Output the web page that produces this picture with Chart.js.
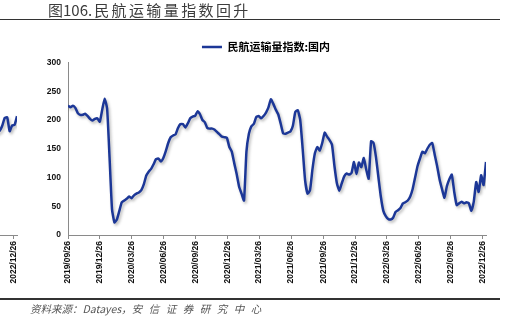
<!DOCTYPE html>
<html>
<head>
<meta charset="utf-8">
<script src="https://cdn.jsdelivr.net/npm/chart.js@4.4.0/dist/chart.umd.min.js"></script>
<style>
html, body { margin: 0; padding: 0; background: #fff; overflow: hidden; }
#wrap { position: relative; width: 509px; height: 326px; overflow: hidden; }
#title { position: absolute; left: 48px; top: 2px; font: 15px "Noto Sans CJK SC"; color: #3c3c3c; white-space: nowrap; line-height: 16px; }
#title .cn { letter-spacing: 2.4px; margin-left: 2px; }
#rule1 { position: absolute; left: 0; top: 19px; width: 500px; border-top: 1.5px solid #333; }
#rule2 { position: absolute; left: 0; top: 298px; width: 500px; border-top: 2px solid #333; }
#source { position: absolute; left: 30px; top: 301px; font: italic 10.5px "Noto Sans CJK SC"; color: #555; white-space: nowrap; }
#source .cn2 { letter-spacing: 6.5px; }
#main { position: absolute; left: 0; top: 0; }
#prev { position: absolute; left: -93px; top: 0; }
</style>
</head>
<body>
<div id="wrap">
  <canvas id="prev" width="130" height="326"></canvas>
  <canvas id="main" width="509" height="326"></canvas>
  <div id="title">图106.<span class="cn">民航运输量指数回升</span></div>
  <div id="rule1"></div>
  <div id="rule2"></div>
  <div id="source">资料来源：Datayes，<span class="cn2">安信证券研究中心</span></div>
</div>
<script>
// weekly series, first point 2019/09/26
const startDate = '2019/09/26';
const seriesName = '民航运输量指数:国内';
const flightIndex = [
  225, 222, 225, 221, 212, 209, 209, 211, 207, 202, 199, 202, 203, 197, 218, 237,
  220, 135, 45, 22, 27, 42, 57, 60, 63, 67, 64, 69, 72, 74, 78, 88,
  103, 110, 115, 123, 132, 133, 128, 134, 146, 160, 170, 173, 175, 186, 193, 193,
  187, 194, 203, 206, 207, 215, 210, 200, 196, 186, 185, 185, 183, 179, 175, 171,
  170, 169, 153, 145, 125, 106, 84, 72, 60, 145, 176, 189, 193, 205, 207, 203,
  207, 213, 222, 236, 228, 218, 210, 194, 177, 176, 178, 180, 190, 214, 217, 200,
  150, 95, 72, 78, 114, 142, 153, 147, 160, 178, 171, 165, 157, 120, 90, 77,
  90, 102, 107, 105, 108, 127, 106, 126, 118, 134, 114, 98, 163, 160, 135, 100,
  66, 42, 33, 28, 27, 30, 40, 43, 47, 55, 57, 60, 67, 80, 100, 120,
  133, 145, 142, 150, 157, 160, 140, 120, 97, 80, 65, 85, 97, 105, 75, 52,
  55, 58, 55, 57, 55, 42, 58, 92, 75, 104, 87, 127
];
const tickLabels = [
  '2019/09/26', '2019/12/26', '2020/03/26', '2020/06/26', '2020/09/26',
  '2020/12/26', '2021/03/26', '2021/06/26', '2021/09/26', '2021/12/26',
  '2022/03/26', '2022/06/26', '2022/09/26', '2022/12/26'
];
const yTicks = [0, 50, 100, 150, 200, 250, 300];

// tail of the neighbouring figure, cut by the page edge
const prevTail = [175, 178, 181, 190, 203, 204, 180, 190, 191, 206];
const prevTickLabels = ['2022/12/26'];

function dayOf(s) {
  const p = s.split('/').map(Number);
  const q = startDate.split('/').map(Number);
  return Math.round((Date.UTC(p[0], p[1] - 1, p[2]) - Date.UTC(q[0], q[1] - 1, q[2])) / 86400000);
}
const lastDay = (flightIndex.length - 1) * 7;

const lineColor = '#1c3797';
const tickFont = { family: 'Liberation Sans', size: 8.5, weight: 'bold' };

const shadowPlugin = {
  id: 'lineShadow',
  beforeDatasetsDraw(chart) {
    const c = chart.ctx;
    c.save();
    c.shadowColor = 'rgba(0,0,0,0.28)';
    c.shadowBlur = 3;
    c.shadowOffsetX = 1.5;
    c.shadowOffsetY = 2;
  },
  afterDatasetsDraw(chart) { chart.ctx.restore(); }
};

function xAxis(labels, min, max) {
  return {
    type: 'linear', min: min, max: max,
    afterBuildTicks: ax => { ax.ticks = labels.map(l => ({ value: dayOf(l) })); },
    afterFit: ax => { ax.height = 91; },
    ticks: {
      autoSkip: false, minRotation: 90, maxRotation: 90, padding: 2,
      color: '#111', font: tickFont,
      callback: v => labels.find(l => dayOf(l) === v) || ''
    },
    grid: { display: true, drawOnChartArea: false, drawTicks: true, tickLength: 4, color: '#8a8a8a' },
    border: { display: true, color: '#8a8a8a', width: 1 }
  };
}

new Chart(document.getElementById('main'), {
  type: 'line',
  data: {
    datasets: [{
      label: seriesName,
      data: flightIndex.map((v, i) => ({ x: i * 7, y: v })),
      borderColor: lineColor,
      backgroundColor: lineColor,
      borderWidth: 2.5,
      pointRadius: 0,
      tension: 0.15
    }]
  },
  options: {
    responsive: false,
    animation: false,
    layout: { padding: { left: 46, right: 23, top: 41.5, bottom: 0 } },
    plugins: {
      legend: {
        display: true,
        position: 'top',
        labels: {
          usePointStyle: true, pointStyle: 'line', pointStyleWidth: 20,
          padding: 0, color: '#000',
          font: { family: 'Noto Sans CJK SC', size: 11, weight: 'bold' }
        }
      },
      tooltip: { enabled: false }
    },
    scales: {
      x: xAxis(tickLabels, 0, lastDay),
      y: {
        min: 0, max: 300,
        afterBuildTicks: ax => { ax.ticks = yTicks.map(v => ({ value: v })); },
        afterFit: ax => { ax.width = 22; },
        ticks: { padding: 7, color: '#111', font: tickFont },
        grid: { display: false, drawTicks: false },
        border: { display: true, color: '#8a8a8a', width: 1 }
      }
    }
  },
  plugins: [shadowPlugin]
});

new Chart(document.getElementById('prev'), {
  type: 'line',
  data: {
    datasets: [{
      data: prevTail.map((v, i) => ({ x: lastDay - (prevTail.length - 1 - i) * 7, y: v })),
      borderColor: lineColor,
      borderWidth: 2.5,
      pointRadius: 0,
      tension: 0.15
    }]
  },
  options: {
    responsive: false,
    animation: false,
    layout: { padding: { left: 10, right: 20, top: 62, bottom: 0 } },
    plugins: { legend: { display: false }, tooltip: { enabled: false } },
    scales: {
      x: xAxis(prevTickLabels, lastDay - 286, lastDay),
      y: { display: false, min: 0, max: 300 }
    }
  },
  plugins: [shadowPlugin]
});
</script>
</body>
</html>
